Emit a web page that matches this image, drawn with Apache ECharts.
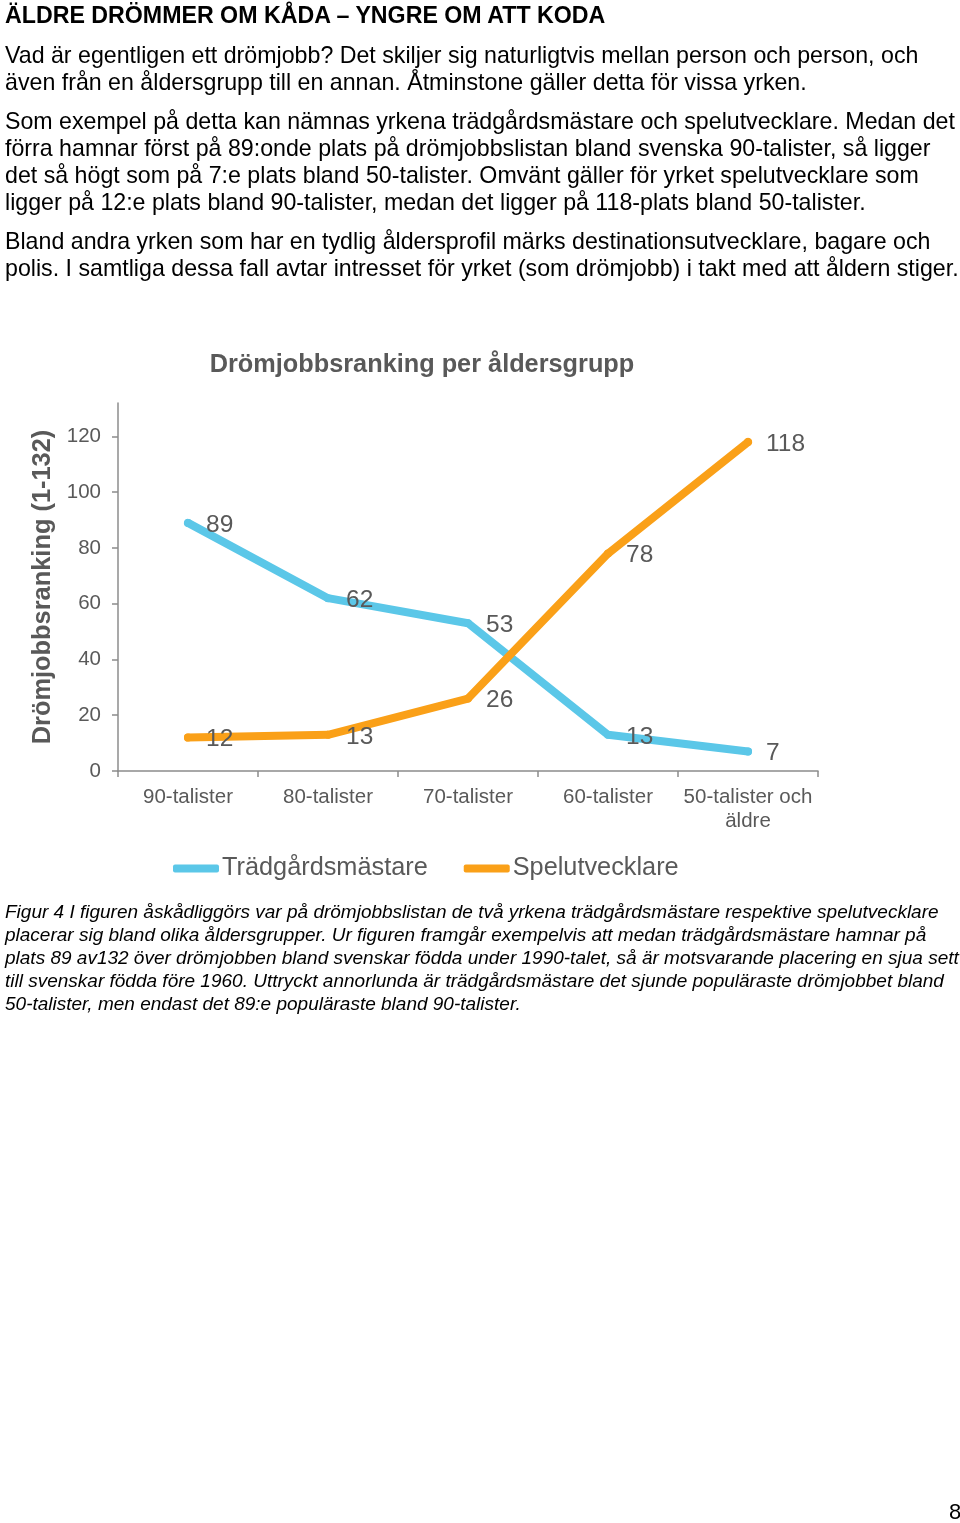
<!DOCTYPE html>
<html><head><meta charset="utf-8">
<script src="https://cdn.jsdelivr.net/npm/echarts@6/dist/echarts.min.js"></script>
<style>
html,body{margin:0;padding:0;background:#fff;}
body{width:960px;height:1523px;position:relative;overflow:hidden;font-family:"Liberation Sans",Arial,sans-serif;color:#000;}
#chart{position:absolute;left:0;top:0;width:960px;height:1523px;}
.t{position:absolute;left:5px;white-space:nowrap;font-size:23.2px;line-height:27px;z-index:2;}
.h{font-weight:bold;font-size:23.2px;}
.c{font-style:italic;font-size:19px;line-height:23px;}
.pg{position:absolute;left:949px;top:1499px;font-size:22px;}
</style></head><body>
<div id="chart"></div>
<div class="t h" style="top:2px">ÄLDRE DRÖMMER OM KÅDA – YNGRE OM ATT KODA</div>
<div class="t" style="top:42px">Vad är egentligen ett drömjobb? Det skiljer sig naturligtvis mellan person och person, och<br>även från en åldersgrupp till en annan. Åtminstone gäller detta för vissa yrken.</div>
<div class="t" style="top:108px">Som exempel på detta kan nämnas yrkena trädgårdsmästare och spelutvecklare. Medan det<br>förra hamnar först på 89:onde plats på drömjobbslistan bland svenska 90-talister, så ligger<br>det så högt som på 7:e plats bland 50-talister. Omvänt gäller för yrket spelutvecklare som<br>ligger på 12:e plats bland 90-talister, medan det ligger på 118-plats bland 50-talister.</div>
<div class="t" style="top:228px">Bland andra yrken som har en tydlig åldersprofil märks destinationsutvecklare, bagare och<br>polis. I samtliga dessa fall avtar intresset för yrket (som drömjobb) i takt med att åldern stiger.</div>
<div class="t c" style="top:900px">Figur 4 I figuren åskådliggörs var på drömjobbslistan de två yrkena trädgårdsmästare respektive spelutvecklare<br>placerar sig bland olika åldersgrupper. Ur figuren framgår exempelvis att medan trädgårdsmästare hamnar på<br>plats 89 av132 över drömjobben bland svenskar födda under 1990-talet, så är motsvarande placering en sjua sett<br>till svenskar födda före 1960. Uttryckt annorlunda är trädgårdsmästare det sjunde populäraste drömjobbet bland<br>50-talister, men endast det 89:e populäraste bland 90-talister.</div>
<div class="pg">8</div>
<script>
const chartTitle = "Drömjobbsranking per åldersgrupp";
const yAxisName = "Drömjobbsranking (1-132)";
const categories = ["90-talister", "80-talister", "70-talister", "60-talister", "50-talister och\näldre"];
const seriesNames = ["Trädgårdsmästare", "Spelutvecklare"];
const tradgard = [89, 62, 53, 13, 7];
const spel = [12, 13, 26, 78, 118];
const yTicks = [0, 20, 40, 60, 80, 100, 120];
const colors = ["#5BC7E8", "#FAA018"];

const gray = "#595959";
const chart = echarts.init(document.getElementById('chart'), null, {renderer: 'canvas'});
function lineSeries(name, data, color) {
  return {
    name: name, type: 'line', data: data,
    symbol: 'circle', symbolSize: 8, showSymbol: true,
    itemStyle: {color: color},
    lineStyle: {width: 8, color: color, cap: 'round', join: 'round'},
    label: {show: true, position: 'right', distance: 14, offset: [0, 2], color: gray, fontSize: 24.5, fontFamily: 'Liberation Sans'},
    emphasis: {disabled: true},
    animation: false
  };
}
chart.setOption({
  animation: false,
  backgroundColor: 'transparent',
  textStyle: {fontFamily: 'Liberation Sans'},
  title: {
    text: chartTitle, left: 417, top: 348, textAlign: 'center',
    textStyle: {fontSize: 25.3, fontWeight: 'bold', color: gray, fontFamily: 'Liberation Sans'}
  },
  grid: {left: 118, top: 403, width: 700, height: 368, containLabel: false},
  legend: {
    left: 168, top: 851, itemWidth: 46, itemHeight: 8, itemGap: 36,
    icon: 'roundRect',
    textStyle: {fontSize: 25.3, color: gray, fontFamily: 'Liberation Sans', padding: [0,0,0,-2]},
    data: seriesNames.map((n, i) => ({name: n, itemStyle: {color: colors[i]}}))
  },
  xAxis: {
    type: 'category', data: categories, boundaryGap: true,
    axisLine: {lineStyle: {color: '#8C8C8C', width: 1.5}},
    axisTick: {show: true, length: 6, lineStyle: {color: '#8C8C8C', width: 1.5}},
    axisLabel: {color: gray, fontSize: 20.5, margin: 14, lineHeight: 24, interval: 0, fontFamily: 'Liberation Sans'}
  },
  yAxis: {
    type: 'value', min: 0, max: 132,
    name: yAxisName, nameLocation: 'middle', nameGap: 60, nameRotate: 90,
    nameTextStyle: {fontSize: 25.4, fontWeight: 'bold', color: gray, fontFamily: 'Liberation Sans'},
    splitLine: {show: false},
    axisLine: {show: true, lineStyle: {color: '#8C8C8C', width: 1.5}},
    axisTick: {show: true, length: 6, customValues: yTicks, lineStyle: {color: '#8C8C8C', width: 1.5}},
    axisLabel: {color: gray, fontSize: 20.5, margin: 17, customValues: yTicks, fontFamily: 'Liberation Sans'}
  },
  series: [lineSeries(seriesNames[0], tradgard, colors[0]), lineSeries(seriesNames[1], spel, colors[1])]
});
</script>
</body></html>
